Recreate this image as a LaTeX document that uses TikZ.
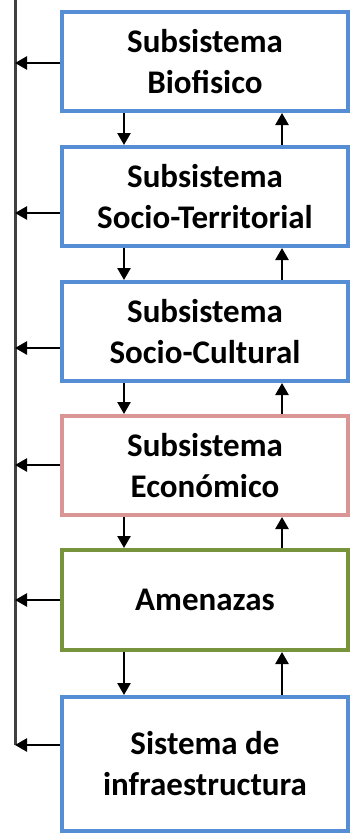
\documentclass[tikz,border=0pt]{standalone}
\usepackage{fontspec}
\setmainfont{Carlito}
\usetikzlibrary{arrows.meta}
\definecolor{bblue}{HTML}{558ED5}
\definecolor{bred}{HTML}{D99694}
\definecolor{bgreen}{HTML}{77933C}
\tikzset{
  box/.style={draw, line width=4pt, fill=white, minimum width=286pt, align=center,
    font=\fontsize{33}{41}\selectfont\bfseries, inner sep=0pt},
  arr/.style={line width=2.5pt, -{Triangle[width=13pt,length=12pt]}},
  bus/.style={line width=3pt, draw=black!75},
}
\begin{document}
\begin{tikzpicture}[x=1pt,y=-1pt]
\useasboundingbox (0,0) rectangle (353,835);
\node[box, draw=bblue, minimum height=99pt] (b1) at (205,61.5) {Subsistema\\Biofisico};
\node[box, draw=bblue, minimum height=99pt] (b2) at (205,196.5) {Subsistema\\Socio-Territorial};
\node[box, draw=bblue, minimum height=99pt] (b3) at (205,331.5) {Subsistema\\Socio-Cultural};
\node[box, draw=bred, minimum height=99pt] (b4) at (205,465.5) {Subsistema\\Económico};
\node[box, draw=bgreen, minimum height=100pt] (b5) at (205,600) {Amenazas};
\node[box, draw=bblue, minimum height=134pt] (b6) at (205,764) {Sistema de\\infraestructura};
\coordinate (top) at (15,0);
\coordinate (l1) at (15,63);
\coordinate (l2) at (15,213);
\coordinate (l3) at (15,348);
\coordinate (l4) at (15,465);
\coordinate (l5) at (15,600);
\coordinate (l6) at (15,745);
\coordinate (dx) at (124,0);
\coordinate (ux) at (282,0);
\draw[bus] (top) -- (l6);
\foreach \i in {1,...,6} {
  \draw[arr] (b\i.west |- l\i) -- (l\i);
}
\foreach \i/\j in {1/2,2/3,3/4,4/5,5/6} {
  \draw[arr] (b\i.south -| dx) -- (b\j.north -| dx);
  \draw[arr] (b\j.north -| ux) -- (b\i.south -| ux);
}
\end{tikzpicture}
\end{document}
